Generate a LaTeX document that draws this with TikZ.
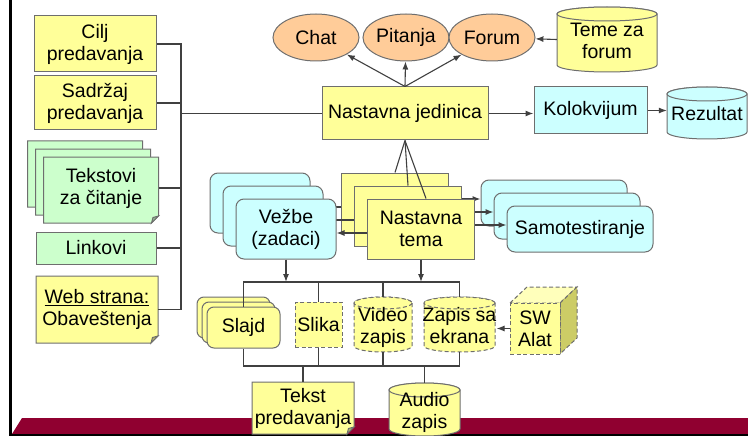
\documentclass[tikz,border=0pt]{standalone}
\usepackage{fontspec}
\setmainfont{Liberation Sans}
\usetikzlibrary{arrows.meta,calc,shapes.geometric}
\definecolor{ylw}{HTML}{FFFF99}
\definecolor{grn}{HTML}{CCFFCC}
\definecolor{cyn}{HTML}{CCFFFF}
\definecolor{pch}{HTML}{FFCC99}
\definecolor{bandc}{HTML}{900030}
\definecolor{bordc}{HTML}{6E6E6E}
\definecolor{linec}{HTML}{404040}
\definecolor{sidec}{HTML}{CCCC66}
\definecolor{topc}{HTML}{FFFFBB}
\tikzset{
  every node/.style={font=\fontsize{19.5}{22}\selectfont, align=center, inner sep=0pt},
  bord/.style={draw=bordc, line width=1pt},
  dbord/.style={draw=bordc, line width=1pt, dash pattern=on 4pt off 2.5pt},
  conn/.style={draw=linec, line width=1.1pt},
  arr/.style={conn, -{Latex[length=8pt,width=6pt]}},
  ell/.style={bord, ellipse, fill=pch, minimum width=86pt, minimum height=47pt},
  vz/.style={bord, rectangle, rounded corners=8pt, fill=cyn, minimum width=100pt, minimum height=60pt},
  nt/.style={bord, rectangle, fill=ylw, minimum width=107pt, minimum height=60pt},
  st/.style={bord, rectangle, rounded corners=8pt, fill=cyn, minimum width=146pt, minimum height=46pt},
  sl/.style={bord, rectangle, rounded corners=7pt, fill=ylw, minimum width=73pt, minimum height=41pt},
}
\newcommand\low[1]{\raisebox{-3.5pt}[\height][\depth]{\begin{tabular}{@{}c@{}}#1\end{tabular}}}
% cx cy w h ry style
\newcommand\cylshape[6]{%
  \path[#6] ({#1-#3/2},{#2-#4/2+#5}) -- ({#1-#3/2},{#2+#4/2-#5})
    arc[start angle=180,end angle=0,x radius={#3/2},y radius=#5]
    -- ({#1+#3/2},{#2-#4/2+#5})
    arc[start angle=360,end angle=180,x radius={#3/2},y radius=#5] -- cycle;
  \path[#6] (#1,{#2-#4/2+#5}) ellipse[x radius={#3/2},y radius=#5];
}
% cx cy w h fill
\newcommand\docshape[5]{%
  \path[bord, fill=#5] ({#1-#3/2},{#2-#4/2}) -- ({#1+#3/2},{#2-#4/2})
    -- ({#1+#3/2},{#2+#4/2-7}) -- ({#1+#3/2-7},{#2+#4/2}) -- ({#1-#3/2},{#2+#4/2}) -- cycle;
  \path[bord, fill=#5!70!black] ({#1+#3/2},{#2+#4/2-7}) -- ({#1+#3/2-7},{#2+#4/2})
    -- ({#1+#3/2-5.5},{#2+#4/2-5.5}) -- cycle;
}
\begin{document}
\begin{tikzpicture}[x=1pt,y=-1pt]
\useasboundingbox (0,0) rectangle (748,436);
% frame and band
\fill[bandc] (22,418) -- (748,418) -- (748,434) -- (12,434) -- cycle;
\draw[line width=2pt] (10,435) -- (748,435);
\draw[line width=3pt] (10,0) -- (10,436);

% left column
\node[bord, fill=ylw, minimum width=122pt, minimum height=56pt] (cilj) at (95,44) {Cilj\\predavanja};
\node[bord, fill=ylw, minimum width=122pt, minimum height=54pt] (sadr) at (95,103) {Sadržaj\\predavanja};
\docshape{85}{174}{115}{66}{grn}
\docshape{93}{182}{115}{66}{grn}
\docshape{101}{190}{115}{66}{grn}
\node[minimum width=115pt, minimum height=66pt] (tek) at (101,188) {Tekstovi\\za čitanje};
\node[bord, fill=grn, minimum width=120pt, minimum height=32pt] (link) at (96,248) {Linkovi};
\docshape{97}{309.5}{122}{67}{ylw}
\node[minimum width=122pt, minimum height=67pt] (web) at (97,309.5) {\underline{Web strana:}\\Obaveštenja};

% top
\node[ell] (chat) at (316,37.5) {Chat};
\node[ell] (pit) at (406,37.5) {Pitanja};
\node[ell] (fo) at (492,37.5) {Forum};
\cylshape{607}{39.5}{100}{65}{7}{bord, fill=ylw}
\node[minimum width=100pt, minimum height=65pt] (teme) at (607,39.5) {\low{Teme za\\forum}};
\node[bord, fill=ylw, minimum width=166pt, minimum height=53pt] (nj) at (405,113.5) {Nastavna jedinica};
\node[bord, fill=cyn, minimum width=113pt, minimum height=47pt] (kol) at (590.5,110.5) {Kolokvijum};
\cylshape{707}{113}{80}{52}{7}{bord, fill=cyn}
\node[minimum width=80pt, minimum height=52pt] (rez) at (707,113) {\low{Rezultat}};

\draw[arr] (nj.north) -- (chat);
\draw[arr] (nj.north) -- (pit);
\draw[arr] (nj.north) -- (fo);
\draw[arr] (teme.west) -- (fo);
\draw[arr] (nj.east) -- (nj.east -| kol.west);
\draw[arr] (kol.east) -- (kol.east -| rez.west);

% left bus
\coordinate (lb) at (181,0);
\draw[conn] (cilj.east) -- (cilj.east -| lb) -- (web.east -| lb) -- (web.east);
\draw[conn] (sadr.east) -- (sadr.east -| lb);
\draw[conn] (tek.east) -- (tek.east -| lb);
\draw[conn] (link.east) -- (link.east -| lb);
\draw[conn] (nj.west -| lb) -- (nj.west);

% middle stacks, back layer
\node[vz] (v1) at (260,203) {};
\node[nt] (nt1) at (395,203) {};
\draw[conn] (nj.south) -- (nt1.north);
\draw[arr] ($(nt1.west)+(0,4)$) -- ($(v1.east)+(0,4)$);
\node[st] (s1) at (554,203) {};
\draw[arr] ($(nt1.east)+(0,-4)$) -- ($(s1.west)+(0,-4)$);
% middle layer
\node[vz] (v2) at (273,216) {};
\node[nt] (nt2) at (408,216) {};
\draw[conn] (nj.south) -- (nt2.north);
\draw[arr] ($(nt2.west)+(0,4)$) -- ($(v2.east)+(0,4)$);
\node[st] (s2) at (567,216) {};
\draw[arr] ($(nt2.east)+(0,-4)$) -- ($(s2.west)+(0,-4)$);
% front layer
\node[vz] (v3) at (286,229) {Vežbe\\(zadaci)};
\node[nt] (nt3) at (421,229) {Nastavna\\tema};
\draw[conn] (nj.south) -- ($(nt3.north)+(5,0)$);
\draw[arr] ($(nt3.west)+(0,4)$) -- ($(v3.east)+(0,4)$);
\node[st] (s3) at (580,229) {Samotestiranje};
\draw[arr] ($(nt3.east)+(0,-4)$) -- ($(s3.west)+(0,-4)$);

% down arrows
\coordinate (bt) at (0,282);
\coordinate (bb) at (0,366);
\draw[arr] (v3.south) -- (v3.south |- bt);
\draw[arr] (nt3.south) -- (nt3.south |- bt);

% media row
\node[sl] (sl1) at (233.5,317.5) {};
\node[sl] (sl2) at (238.5,322.5) {};
\node[sl] (sl3) at (243.5,327.5) {Slajd};
\node[dbord, fill=ylw, minimum width=47pt, minimum height=45pt] (sli) at (318.5,324.5) {Slika};
\cylshape{383}{324.5}{58}{55}{6}{dbord, fill=ylw}
\node[minimum width=58pt, minimum height=55pt] (vid) at (383,324.5) {\low{Video\\zapis}};
\cylshape{459.5}{324.5}{71}{55}{6}{dbord, fill=ylw}
\node[minimum width=71pt, minimum height=55pt] (za) at (459.5,324.5) {\low{Zapis sa\\ekrana}};
\path[dbord, fill=topc] (510,303) -- (527,287) -- (577,287) -- (560,303) -- cycle;
\path[dbord, fill=sidec] (560,303) -- (577,287) -- (577,338) -- (560,354) -- cycle;
\node[dbord, fill=ylw, minimum width=50pt, minimum height=51pt] (sw) at (535,328.5) {SW\\Alat};
\draw[arr] (sw.west) -- (sw.west -| za.east);

\draw[conn] (sl3.north) -- (sl3.north |- bt) -- (za.north |- bt) -- (za.north);
\draw[conn] (sli.north) -- (sli.north |- bt);
\draw[conn] (vid.north) -- (vid.north |- bt);
\draw[conn] (sl3.south) -- (sl3.south |- bb) -- (za.south |- bb) -- (za.south);
\draw[conn] (sli.south) -- (sli.south |- bb);
\draw[conn] (vid.south) -- (vid.south |- bb);

% bottom
\docshape{303}{408}{102}{52}{ylw}
\node[minimum width=102pt, minimum height=52pt] (tp) at (303,408) {Tekst\\predavanja};
\cylshape{424.5}{409.5}{71}{53}{7}{bord, fill=ylw}
\node[minimum width=71pt, minimum height=53pt] (aud) at (424.5,409.5) {\low{Audio\\zapis}};
\draw[conn] (tp.north |- bb) -- (tp.north);
\draw[conn] (aud.north |- bb) -- (aud.north);
\end{tikzpicture}
\end{document}
